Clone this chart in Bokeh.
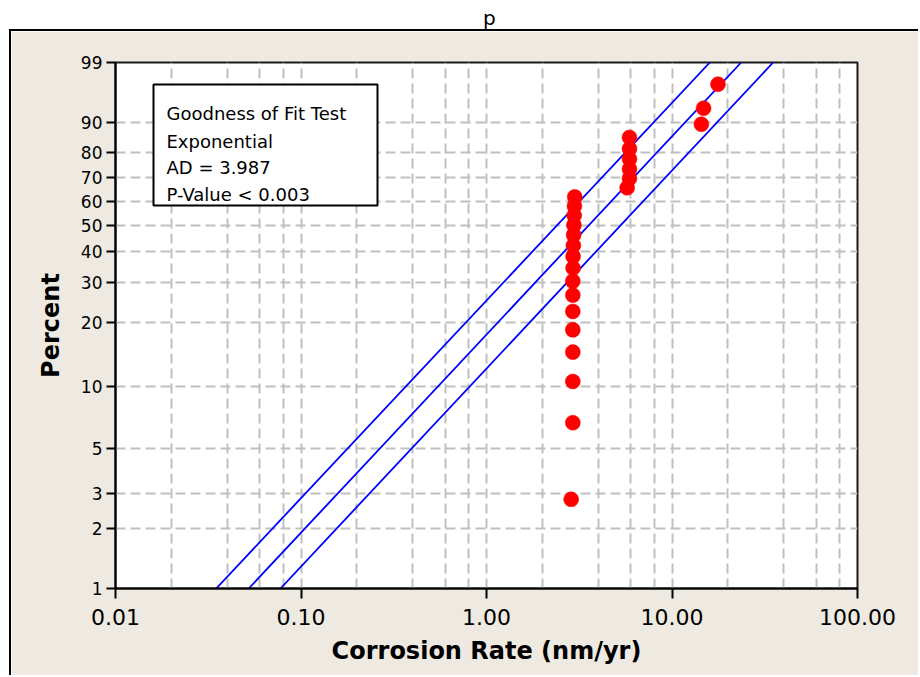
import math
from bokeh.plotting import figure
from bokeh.models import (FixedTicker, PrintfTickFormatter, CustomJSTickFormatter,
                          BoxAnnotation, Label, Div, Range1d, ColumnDataSource)
from bokeh.layouts import column
from bokeh.embed import file_html
from bokeh.resources import INLINE

# ---------------- data ----------------
rate = [2.86, 2.92, 2.92, 2.92, 2.92, 2.92, 2.92, 2.92, 2.93, 2.93, 2.94, 2.95,
        2.96, 2.97, 2.98, 2.99,
        5.73, 5.90, 5.90, 5.90, 5.90, 5.90,
        14.4, 14.8, 17.7]
percent = [2.8, 6.7, 10.6, 14.6, 18.5, 22.4, 26.4, 30.3, 34.3, 38.2, 42.1, 46.1,
           50.0, 53.9, 57.9, 61.8,
           65.7, 69.7, 73.6, 77.6, 81.5, 85.4,
           89.4, 93.3, 97.2]

# fitted line and 95% CI endpoints (rate at 1 % and at 99 %)
line_names = ["lower", "fit", "upper"]
line_rate_at_1 = [0.0349, 0.0523, 0.0775]
line_rate_at_99 = [16.0, 23.6, 35.1]
line_pct = [1, 99]

y_tick_pct = [1, 2, 3, 5, 10, 20, 30, 40, 50, 60, 70, 80, 90, 99]
x_major = [0.01, 0.1, 1, 10, 100]
x_minor_mult = [2, 4, 6, 8]

box_lines = ["Goodness of Fit Test", "Exponential", "AD = 3.987", "P-Value < 0.003"]
title_text = "p"
x_label = "Corrosion Rate (nm/yr)"
y_label = "Percent"

# ---------------- helpers ----------------
def expq(pct):
    """exponential probability scale: -ln(1-p)"""
    return -math.log(1 - pct / 100.0)

FONT = "DejaVu Sans"
BEIGE = "#EEEAE1"
GRID = "#C0C0C0"

p = figure(width=909, height=646, x_axis_type="log", y_axis_type="log",
           x_range=Range1d(0.01, 100), y_range=Range1d(expq(1), expq(99)),
           output_backend="svg", toolbar_location=None, title=None,
           min_border_left=104, min_border_right=63, min_border_top=31,
           min_border_bottom=89,
           background_fill_color="white", border_fill_color=BEIGE,
           outline_line_color="#1a1a1a", outline_line_width=2,
           margin=(0, 0, 0, 9))
p.styles = {"border-top": "2px solid black", "border-left": "2px solid black"}

# axes
x_minor = [m * d for d in [0.01, 0.1, 1, 10] for m in x_minor_mult]
p.xaxis.ticker = FixedTicker(ticks=x_major, minor_ticks=x_minor)
p.xaxis.formatter = PrintfTickFormatter(format="%.2f")
p.yaxis.ticker = FixedTicker(ticks=[expq(v) for v in y_tick_pct], minor_ticks=[])
p.yaxis.formatter = CustomJSTickFormatter(
    code="return String(Math.round(100*(1-Math.exp(-tick))));")

for ax in (p.xaxis, p.yaxis):
    ax.axis_line_color = "black"
    ax.axis_line_width = 2
    ax.major_tick_line_color = "black"
    ax.major_tick_line_width = 2
    ax.major_tick_in = 0
    ax.minor_tick_line_color = None
    ax.major_label_text_font = FONT
    ax.major_label_text_color = "black"
    ax.axis_label_text_font = FONT
    ax.axis_label_text_font_style = "bold"
    ax.axis_label_text_color = "black"
    ax.axis_label_text_font_size = "24px"

p.xaxis.major_tick_out = 10
p.xaxis.major_label_text_font_size = "22px"
p.xaxis.major_label_standoff = 10
p.xaxis.axis_label = x_label
p.xaxis.axis_label_standoff = 9

p.yaxis.major_tick_out = 9
p.yaxis.major_label_text_font_size = "17px"
p.yaxis.major_label_standoff = 4
p.yaxis.axis_label = y_label
p.yaxis.axis_label_standoff = 13

# grids
p.xgrid.ticker = FixedTicker(ticks=x_major, minor_ticks=x_minor)
p.ygrid.ticker = FixedTicker(ticks=[expq(v) for v in y_tick_pct], minor_ticks=[])
for g in (p.xgrid, p.ygrid):
    g.grid_line_color = GRID
    g.grid_line_width = 2
    g.grid_line_dash = "10 5"
p.xgrid.minor_grid_line_color = GRID
p.xgrid.minor_grid_line_width = 2
p.xgrid.minor_grid_line_dash = "10 5"

# fitted line + confidence bounds
for lo, hi in zip(line_rate_at_1, line_rate_at_99):
    p.line(x=[lo, hi], y=[expq(v) for v in line_pct], line_color="#0000FF",
           line_width=1.8)

# points
src = ColumnDataSource(dict(x=rate, y=[expq(v) for v in percent]))
p.scatter(x="x", y="y", source=src, marker="circle", size=15,
          fill_color="#FF0000", line_color="#FF0000", line_width=0.5)

# goodness-of-fit box
p.add_layout(BoxAnnotation(left=38, right=262, bottom=383, top=504,
                           left_units="screen", right_units="screen",
                           bottom_units="screen", top_units="screen",
                           fill_color="white", fill_alpha=1.0,
                           line_color="black", line_width=2, line_alpha=1.0))
for txt, yb in zip(box_lines, [475, 447, 421, 394]):
    p.add_layout(Label(x=51, y=yb, x_units="screen", y_units="screen",
                       text=txt, text_font=FONT, text_font_size="18px",
                       text_color="black", text_baseline="alphabetic"))

title = Div(text=('<div style="position:relative;left:483px;top:8px;'
                  'font-family:DejaVu Sans;font-size:20px;line-height:1;'
                  'color:black">' + title_text + '</div>'),
            width=920, height=29, margin=(0, 0, 0, 0))

layout = column(title, p, spacing=0)

open("out.html", "w").write(file_html(layout, INLINE))
